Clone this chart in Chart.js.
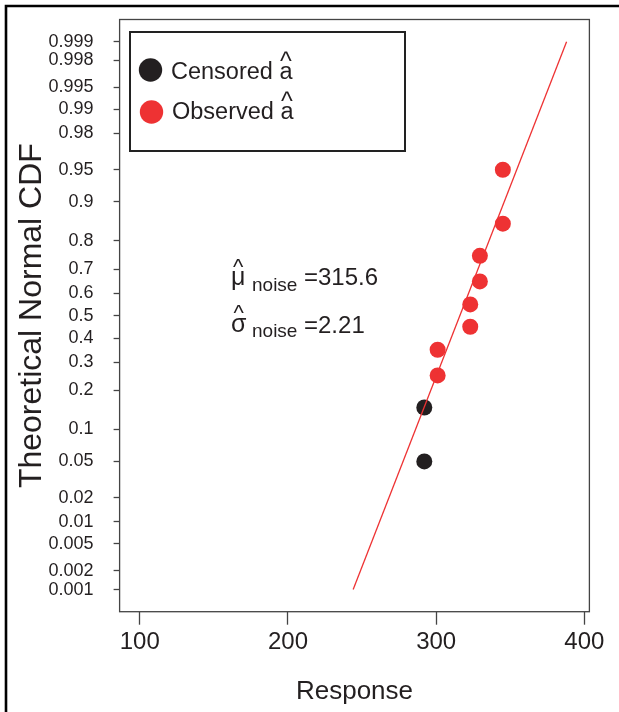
<!DOCTYPE html>
<html>
<head>
<meta charset="utf-8">
<script src="https://cdn.jsdelivr.net/npm/chart.js@4.4.1/dist/chart.umd.min.js"></script>
<style>
  html, body { margin: 0; padding: 0; background: #fff; }
  canvas { display: block; }
</style>
</head>
<body>
<canvas id="probplot" width="619" height="712"></canvas>
<script>
const censoredX = [292, 292];
const censoredP = [0.05, 0.15];
const observedX = [301, 301, 323, 323, 329.5, 329.5, 345, 345];
const observedP = [0.25, 0.35, 0.45, 0.55, 0.65, 0.75, 0.85, 0.95];
const fitX = [244, 388];
const fitP = [0.001, 0.999];

const xTicks = [100, 200, 300, 400];
const yTickP = [0.001, 0.002, 0.005, 0.01, 0.02, 0.05, 0.1, 0.2, 0.3, 0.4, 0.5,
  0.6, 0.7, 0.8, 0.9, 0.95, 0.98, 0.99, 0.995, 0.998, 0.999];
const yTickLabels = ['0.001', '0.002', '0.005', '0.01', '0.02', '0.05', '0.1', '0.2', '0.3', '0.4', '0.5',
  '0.6', '0.7', '0.8', '0.9', '0.95', '0.98', '0.99', '0.995', '0.998', '0.999'];

const RED = '#ee3233';
const BLACK = '#231f20';
const FONT = '"Liberation Sans", Arial, Helvetica, sans-serif';

// inverse normal cdf (Acklam), used for the probability axis
function probit(p) {
  const a = [-39.69683028665376, 220.9460984245205, -275.9285104469687, 138.3577518672690, -30.66479806614716, 2.506628277459239];
  const b = [-54.47609879822406, 161.5858368580409, -155.6989798598866, 66.80131188771972, -13.28068155288572];
  const c = [-0.007784894002430293, -0.3223964580411365, -2.400758277161838, -2.549732539343734, 4.374664141464968, 2.938163982698783];
  const d = [0.007784695709041462, 0.3224671290700398, 2.445134137142996, 3.754408661907416];
  const lo = 0.02425;
  let q, r;
  if (p < lo) {
    q = Math.sqrt(-2 * Math.log(p));
    return (((((c[0]*q+c[1])*q+c[2])*q+c[3])*q+c[4])*q+c[5]) / ((((d[0]*q+d[1])*q+d[2])*q+d[3])*q+1);
  }
  if (p > 1 - lo) {
    q = Math.sqrt(-2 * Math.log(1 - p));
    return -(((((c[0]*q+c[1])*q+c[2])*q+c[3])*q+c[4])*q+c[5]) / ((((d[0]*q+d[1])*q+d[2])*q+d[3])*q+1);
  }
  q = p - 0.5; r = q * q;
  return (((((a[0]*r+a[1])*r+a[2])*r+a[3])*r+a[4])*r+a[5])*q / (((((b[0]*r+b[1])*r+b[2])*r+b[3])*r+b[4])*r+1);
}

function toPoints(xs, ps) {
  return xs.map((x, i) => ({ x: x, y: probit(ps[i]) }));
}

// text with a hat drawn over the last glyph
function hatText(ctx, before, glyph, x, y, font, hatFont, hatLift) {
  ctx.font = font;
  ctx.fillText(before, x, y);
  const w0 = ctx.measureText(before).width;
  ctx.fillText(glyph, x + w0, y);
  const gw = ctx.measureText(glyph).width;
  ctx.font = hatFont;
  ctx.textAlign = 'center';
  ctx.fillText('^', x + w0 + gw / 2, y - hatLift);
  ctx.textAlign = 'left';
  return w0 + gw;
}

const decorations = {
  id: 'decorations',
  afterDraw(chart) {
    const ctx = chart.ctx;
    const area = chart.chartArea;
    ctx.save();

    // outer frame (top and left edges)
    ctx.strokeStyle = '#000';
    ctx.lineWidth = 2.6;
    ctx.beginPath();
    ctx.moveTo(619, 6);
    ctx.lineTo(6, 6);
    ctx.lineTo(6, 712);
    ctx.stroke();

    // plot box
    ctx.strokeStyle = '#444';
    ctx.lineWidth = 1.3;
    ctx.strokeRect(area.left, area.top, area.right - area.left, area.bottom - area.top);

    // legend
    ctx.fillStyle = '#fff';
    ctx.fillRect(130, 32, 275, 119);
    ctx.strokeStyle = '#222';
    ctx.lineWidth = 2;
    ctx.strokeRect(130, 32, 275, 119);
    const ds = chart.data.datasets;
    ctx.fillStyle = ds[1].backgroundColor;
    ctx.beginPath(); ctx.arc(150.5, 70, 11.7, 0, Math.PI * 2); ctx.fill();
    ctx.fillStyle = ds[2].backgroundColor;
    ctx.beginPath(); ctx.arc(151.5, 112, 11.7, 0, Math.PI * 2); ctx.fill();
    ctx.fillStyle = '#231f20';
    ctx.textBaseline = 'alphabetic';
    hatText(ctx, ds[1].label + ' ', 'a', 171, 79, '23.5px ' + FONT, '25px ' + FONT, 9);
    hatText(ctx, ds[2].label + ' ', 'a', 172, 119, '23.5px ' + FONT, '25px ' + FONT, 9);

    // fitted parameters
    hatText(ctx, '', '\u03bc', 231, 285, '25px ' + FONT, '22px ' + FONT, 11);
    ctx.font = '19px ' + FONT;
    ctx.fillText('noise', 252, 291);
    ctx.font = '24px ' + FONT;
    ctx.fillText('=315.6', 304, 285);

    hatText(ctx, '', '\u03c3', 231, 332, '25px ' + FONT, '22px ' + FONT, 12);
    ctx.font = '19px ' + FONT;
    ctx.fillText('noise', 252, 337);
    ctx.font = '24px ' + FONT;
    ctx.fillText('=2.21', 304, 333);

    ctx.restore();
  }
};

new Chart(document.getElementById('probplot'), {
  type: 'scatter',
  data: {
    datasets: [
      {
        label: 'fit',
        type: 'line',
        data: toPoints(fitX, fitP),
        borderColor: RED,
        borderWidth: 1.3,
        pointRadius: 0,
        fill: false,
        tension: 0
      },
      {
        label: 'Censored',
        data: toPoints(censoredX, censoredP),
        backgroundColor: BLACK,
        borderWidth: 0,
        pointRadius: 8
      },
      {
        label: 'Observed',
        data: toPoints(observedX, observedP),
        backgroundColor: RED,
        borderWidth: 0,
        pointRadius: 8
      }
    ]
  },
  options: {
    responsive: false,
    animation: false,
    layout: { padding: { left: 0, right: 29.6, top: 19.5, bottom: 0 } },
    plugins: {
      legend: { display: false },
      tooltip: { enabled: false }
    },
    scales: {
      x: {
        type: 'linear',
        min: 86.4,
        max: 403.4,
        afterBuildTicks: (scale) => { scale.ticks = xTicks.map(v => ({ value: v })); },
        afterFit: (scale) => { scale.height = 100.3; },
        grid: { drawOnChartArea: false, tickLength: 13, tickColor: '#444', tickWidth: 1.3 },
        border: { display: false },
        ticks: { color: '#231f20', font: { family: FONT, size: 24 }, padding: 3, maxRotation: 0, autoSkip: false },
        title: { display: true, text: 'Response', color: '#231f20', font: { family: FONT, size: 26 }, padding: { top: 0, bottom: 5 } }
      },
      y: {
        type: 'linear',
        min: -3.34,
        max: 3.34,
        afterBuildTicks: (scale) => { scale.ticks = yTickP.map(p => ({ value: probit(p) })); },
        afterFit: (scale) => {
          scale.width = 119.6;
          scale.paddingTop = 0;
          scale.paddingBottom = 0;
        },
        grid: { drawOnChartArea: false, tickLength: 6, tickColor: '#444', tickWidth: 1.3 },
        border: { display: false },
        ticks: {
          color: '#231f20',
          font: { family: FONT, size: 18 },
          padding: 20,
          autoSkip: false,
          callback: (value, index) => yTickLabels[index]
        },
        title: { display: true, text: 'Theoretical Normal CDF', color: '#231f20', font: { family: FONT, size: 32 }, padding: { top: 13, bottom: 0 } }
      }
    }
  },
  plugins: [decorations]
});
</script>
</body>
</html>
